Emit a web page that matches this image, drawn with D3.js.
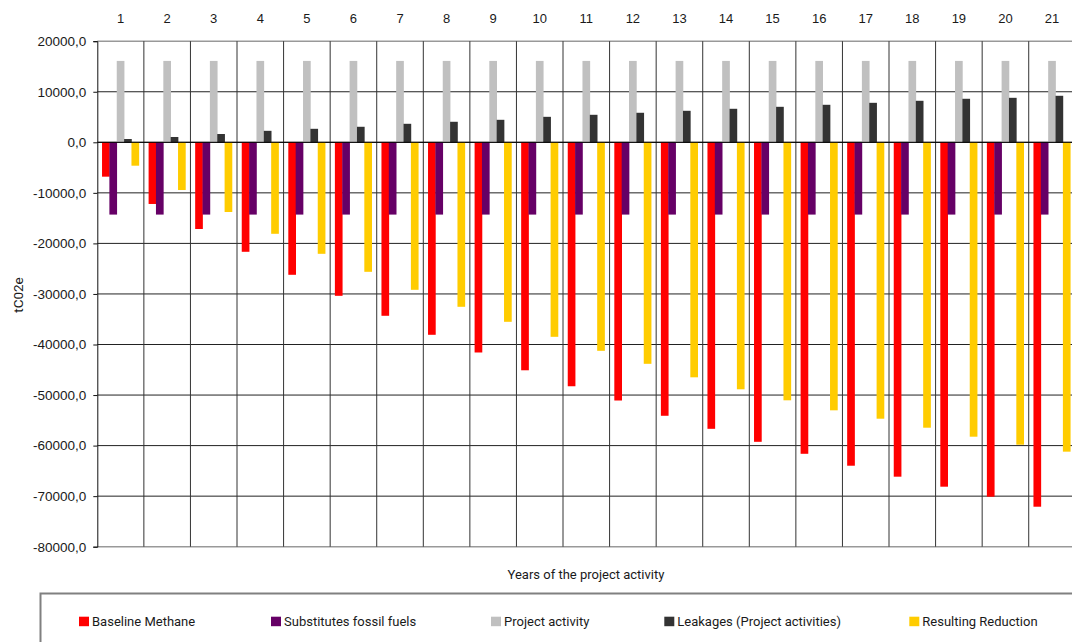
<!DOCTYPE html>
<html>
<head>
<meta charset="utf-8">
<script src="https://cdn.jsdelivr.net/npm/d3@7"></script>
<style>
  html, body { margin: 0; padding: 0; background: #fff; }
  svg { display: block; }
</style>
</head>
<body>
<svg id="chart" width="1072" height="642"></svg>
<script>
// Project years (category axis, labels drawn along the top)
const years = d3.range(1, 22).map(String);

// Emission components per year, tCO2e
const baselineMethane = [-6800, -12200, -17150, -21660, -26210, -30370, -34320, -38080, -41580, -45100,
  -48260, -51080, -54100, -56680, -59250, -61620, -63980, -66150, -68130, -70110, -72090];
const substitutesFossilFuels = [-14300, -14300, -14300, -14300, -14300, -14300, -14300, -14300, -14300, -14300,
  -14300, -14300, -14300, -14300, -14300, -14300, -14300, -14300, -14300, -14300, -14300];
const projectActivity = [16100, 16100, 16100, 16100, 16100, 16100, 16100, 16100, 16100, 16100,
  16100, 16100, 16100, 16100, 16100, 16100, 16100, 16100, 16100, 16100, 16100];
const leakages = [650, 1050, 1640, 2270, 2670, 3070, 3660, 4060, 4450, 5040,
  5440, 5840, 6230, 6630, 7020, 7420, 7810, 8210, 8610, 8800, 9200];
const resultingReduction = [-4630, -9440, -13790, -18100, -22060, -25620, -29180, -32540, -35510, -38480,
  -41250, -43820, -46490, -48860, -51040, -53020, -54680, -56460, -58240, -59820, -61200];

const seriesNames = ["Baseline Methane", "Substitutes fossil fuels", "Project activity",
  "Leakages (Project activities)", "Resulting Reduction"];
const seriesColors = ["#ff0000", "#660066", "#c0c0c0", "#333333", "#ffcc00"];
const seriesValues = [baselineMethane, substitutesFossilFuels, projectActivity, leakages, resultingReduction];

const yTicks = d3.range(-80000, 20001, 10000);

const svg = d3.select("#chart");
const plotLeft = 97.3, plotTop = 41.2, plotBottom = 546.7, plotRight = 1075.3;

const x = d3.scaleBand().domain(years).range([plotLeft, plotRight]).paddingInner(0).paddingOuter(0);
const y = d3.scaleLinear().domain([-80000, 20000]).range([plotBottom, plotTop]);

const bw = x.bandwidth();
const groupW = bw * 0.797;
const barW = bw * 0.165;
const step = (groupW - barW) / (seriesNames.length - 1);
const groupOff = (bw - groupW) / 2;

const fmt = v => d3.format(".1f")(v).replace(".", ",").replace("−", "-");

// horizontal gridlines
svg.append("g").selectAll("line").data(yTicks).join("line")
  .attr("x1", plotLeft).attr("x2", plotRight)
  .attr("y1", d => y(d)).attr("y2", d => y(d))
  .attr("stroke", d => (d === 20000 || d === -80000) ? "#999" : "#222")
  .attr("stroke-width", d => (d === 20000 || d === -80000) ? 1.5 : 1);

// vertical category separators
svg.append("g").selectAll("line").data(years.slice(1)).join("line")
  .attr("x1", d => x(d)).attr("x2", d => x(d))
  .attr("y1", plotTop).attr("y2", plotBottom)
  .attr("stroke", "#333").attr("stroke-width", 1);

// bars, drawn series by series
seriesValues.forEach((vals, si) => {
  svg.append("g").attr("fill", seriesColors[si])
    .selectAll("rect").data(vals).join("rect")
    .attr("x", (d, i) => x(years[i]) + groupOff + si * step)
    .attr("width", barW)
    .attr("y", d => y(Math.max(0, d)))
    .attr("height", d => Math.abs(y(d) - y(0)));
});

// zero line on top of the bars
svg.append("line")
  .attr("x1", plotLeft).attr("x2", plotRight).attr("y1", y(0)).attr("y2", y(0))
  .attr("stroke", "#000").attr("stroke-width", 1);

// value axis
const yAxis = svg.append("g").attr("transform", `translate(${plotLeft},0)`)
  .call(d3.axisLeft(y).tickValues(yTicks).tickFormat(fmt).tickSize(4).tickPadding(7));
yAxis.select(".domain").attr("stroke", "#111");
yAxis.selectAll(".tick line").attr("stroke", "#111");
yAxis.selectAll("text").attr("fill", "#1a1a1a")
  .style("font-family", "'Liberation Sans', Arial, sans-serif").style("font-size", "13.5px");

// category labels along the top
svg.append("g").selectAll("text").data(years).join("text")
  .attr("x", d => x(d) + bw / 2).attr("y", 23.3)
  .attr("text-anchor", "middle").attr("fill", "#1a1a1a")
  .style("font-family", "'Liberation Sans', Arial, sans-serif").style("font-size", "13px")
  .text(d => d);

// axis titles
svg.append("text")
  .attr("transform", "translate(22.5,295) rotate(-90)")
  .attr("text-anchor", "middle").attr("fill", "#1a1a1a")
  .style("font-family", "Roboto, sans-serif").style("font-size", "13.5px")
  .text("tC02e");

svg.append("text")
  .attr("x", 586).attr("y", 578.7).attr("text-anchor", "middle").attr("fill", "#1a1a1a")
  .style("font-family", "Roboto, sans-serif").style("font-size", "13px")
  .text("Years of the project activity");

// legend box
svg.append("rect")
  .attr("x", 40.5).attr("y", 593.5).attr("width", 1100).attr("height", 100)
  .attr("fill", "none").attr("stroke", "#808080").attr("stroke-width", 2);

const legendX = [79, 271, 491, 664.3, 909.3];
const legend = svg.append("g").selectAll("g").data(seriesNames).join("g")
  .attr("transform", (d, i) => `translate(${legendX[i]},616.7)`);
legend.append("rect").attr("width", 10).attr("height", 9.5)
  .attr("fill", (d, i) => seriesColors[i]);
legend.append("text").attr("x", 13).attr("y", 9.6).attr("fill", "#1a1a1a")
  .style("font-family", "Roboto, sans-serif").style("font-size", "13px")
  .text(d => d);
</script>
</body>
</html>
